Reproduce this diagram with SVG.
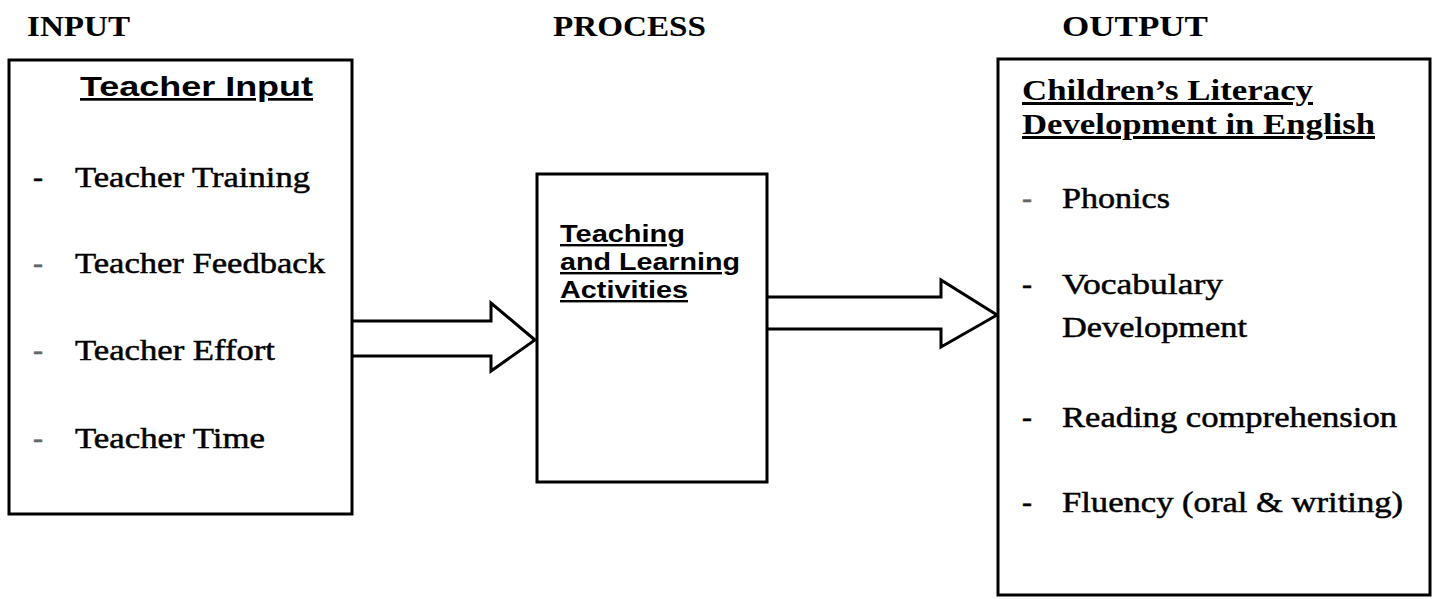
<svg xmlns="http://www.w3.org/2000/svg" width="1440" height="599" viewBox="0 0 1440 599">
<style>
.box{fill:#fff;stroke:#000;stroke-width:3}
.arr{fill:none;stroke:#000;stroke-width:3;stroke-linejoin:miter}
.hd{font-family:"Liberation Serif","Times New Roman",serif;font-weight:bold;font-size:30px;fill:#000}
.sans{font-family:"Liberation Sans",Arial,sans-serif;font-weight:bold;fill:#000;text-decoration:underline}
.it{font-family:"Liberation Serif","Times New Roman",serif;font-size:30px;fill:#000;stroke:#000;stroke-width:0.5}
.dash{font-family:"Liberation Serif","Times New Roman",serif;font-size:30px;fill:#000;stroke:#000;stroke-width:0.5}
.faint{fill:#666;stroke:#666}
</style>
<rect width="1440" height="599" fill="#fff"/>
<g id="headings">
<text class="hd" x="27" y="36" textLength="103" lengthAdjust="spacingAndGlyphs">INPUT</text>
<text class="hd" x="553" y="36" textLength="153" lengthAdjust="spacingAndGlyphs">PROCESS</text>
<text class="hd" x="1062" y="36" textLength="146" lengthAdjust="spacingAndGlyphs">OUTPUT</text>
</g>
<g id="connectors">
<path class="arr" d="M352,321 H491 V303 L535,340 L491,371 V356 H352"/>
<path class="arr" d="M767,297 H941 V280 L997,315 L941,347 V329 H767"/>
</g>
<g id="input">
<rect class="box" x="9" y="60" width="343" height="454"/>
<text class="sans" x="80" y="96" font-size="27" textLength="233" lengthAdjust="spacingAndGlyphs">Teacher Input</text>
<text class="dash" x="33" y="187">-</text>
<text class="it" x="75" y="187" textLength="235" lengthAdjust="spacingAndGlyphs">Teacher Training</text>
<text class="dash faint" x="33" y="273">-</text>
<text class="it" x="75" y="273" textLength="250" lengthAdjust="spacingAndGlyphs">Teacher Feedback</text>
<text class="dash faint" x="33" y="360">-</text>
<text class="it" x="75" y="360" textLength="200" lengthAdjust="spacingAndGlyphs">Teacher Effort</text>
<text class="dash faint" x="33" y="448">-</text>
<text class="it" x="75" y="448" textLength="190" lengthAdjust="spacingAndGlyphs">Teacher Time</text>
</g>
<g id="process">
<rect class="box" x="537" y="174" width="230" height="308"/>
<text class="sans" x="560" y="242" font-size="24" textLength="125" lengthAdjust="spacingAndGlyphs">Teaching</text>
<text class="sans" x="560" y="270" font-size="24" textLength="180" lengthAdjust="spacingAndGlyphs">and Learning</text>
<text class="sans" x="560" y="298" font-size="24" textLength="128" lengthAdjust="spacingAndGlyphs">Activities</text>
</g>
<g id="output">
<rect class="box" x="998" y="59" width="432" height="536"/>
<text class="hd" x="1022" y="100" textLength="291" lengthAdjust="spacingAndGlyphs" text-decoration="underline">Children’s Literacy</text>
<text class="hd" x="1022" y="134" textLength="353" lengthAdjust="spacingAndGlyphs" text-decoration="underline">Development in English</text>
<text class="dash faint" x="1022" y="208">-</text>
<text class="it" x="1062" y="208" textLength="108" lengthAdjust="spacingAndGlyphs">Phonics</text>
<text class="dash" x="1022" y="294">-</text>
<text class="it" x="1062" y="294" textLength="161" lengthAdjust="spacingAndGlyphs">Vocabulary</text>
<text class="it" x="1062" y="337" textLength="185" lengthAdjust="spacingAndGlyphs">Development</text>
<text class="dash" x="1022" y="427">-</text>
<text class="it" x="1062" y="427" textLength="335" lengthAdjust="spacingAndGlyphs">Reading comprehension</text>
<text class="dash" x="1022" y="512">-</text>
<text class="it" x="1062" y="512" textLength="341" lengthAdjust="spacingAndGlyphs">Fluency (oral &amp; writing)</text>
</g>
</svg>
